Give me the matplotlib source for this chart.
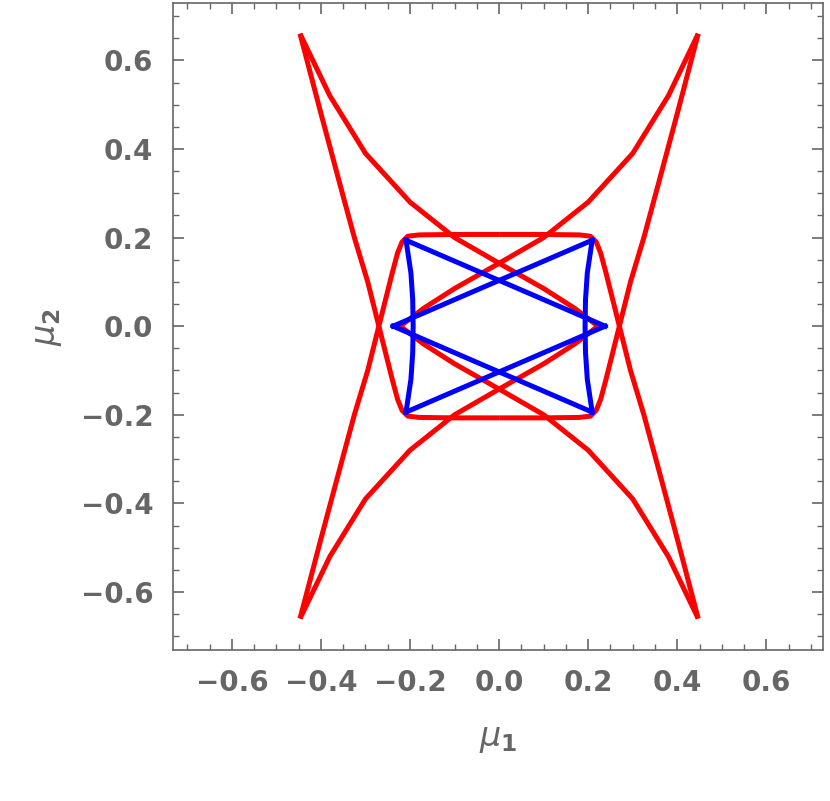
import numpy as np
import matplotlib.pyplot as plt
from matplotlib.ticker import MultipleLocator

# red caustic (one quarter-ish pieces, mirrored below)
# outer branch: top-left cusp -> crossing on the axis -> rounded box corner
outer_x = [-0.447, -0.40, -0.36, -0.325, -0.295, -0.27, -0.255, -0.24, -0.228, -0.218, -0.205, -0.18, -0.10, 0.0]
outer_y = [0.66, 0.48, 0.33, 0.20, 0.10, 0.0, -0.06, -0.12, -0.165, -0.19, -0.203, -0.206, -0.207, -0.207]
# concave branch: top-right cusp -> centre crossing -> inner cusp on the left
conc_x = [0.447, 0.38, 0.30, 0.20, 0.10, 0.0, -0.10, -0.17, -0.222]
conc_y = [0.66, 0.52, 0.39, 0.28, 0.20, 0.142, 0.085, 0.04, 0.0]

# blue caustic
blue_diag_x = [-0.209, 0.238]
blue_diag_y = [0.194, 0.0]
blue_side_x = [-0.209, -0.198, -0.194, -0.193, -0.194, -0.198, -0.209]
blue_side_y = [0.194, 0.12, 0.06, 0.0, -0.06, -0.12, -0.194]

ox, oy = np.array(outer_x), np.array(outer_y)
cx, cy = np.array(conc_x), np.array(conc_y)
bx, by = np.array(blue_diag_x), np.array(blue_diag_y)
sx, sy = np.array(blue_side_x), np.array(blue_side_y)

fig = plt.figure(figsize=(8.3, 8.01), dpi=100)
ax = fig.add_axes([0.208, 0.1885, 0.784, 0.8075])

red = '#ff0000'
blue = '#0000ff'
lw = 3.6
for fx in (1, -1):
    for fy in (1, -1):
        ax.plot(fx * ox, fy * oy, color=red, lw=lw, solid_capstyle='butt')
        ax.plot(fx * cx, fy * cy, color=red, lw=lw, solid_capstyle='butt')
for fx in (1, -1):
    for fy in (1, -1):
        ax.plot(fx * bx, fy * by, color=blue, lw=lw, solid_joinstyle='round')
    ax.plot(fx * sx, sy, color=blue, lw=lw)

ax.set_xlim(-0.733, 0.728)
ax.set_ylim(-0.731, 0.729)

gray = '#666666'
for s in ax.spines.values():
    s.set_color(gray)
    s.set_linewidth(1.2)
for a in (ax.xaxis, ax.yaxis):
    a.set_major_locator(MultipleLocator(0.2))
    a.set_minor_locator(MultipleLocator(0.05))
ax.tick_params(which='both', direction='in', top=True, right=True, color=gray)
ax.tick_params(which='major', length=8, width=1.2, labelsize=20, labelcolor=gray, pad=14)
ax.tick_params(which='minor', length=4, width=1.0)
ticks = [-0.6, -0.4, -0.2, 0.0, 0.2, 0.4, 0.6]
labels = ['\u22120.6', '\u22120.4', '\u22120.2', '0.0', '0.2', '0.4', '0.6']
ax.set_xticks(ticks, labels)
ax.set_yticks(ticks, labels)
for t in ax.get_xticklabels() + ax.get_yticklabels():
    t.set_fontweight('bold')

ax.set_xlabel(r'$\mu_\mathbf{1}$', fontsize=24, color=gray, labelpad=18)
ax.set_ylabel(r'$\mu_\mathbf{2}$', fontsize=24, color=gray, labelpad=12)

fig.savefig('out.png', dpi=100)
